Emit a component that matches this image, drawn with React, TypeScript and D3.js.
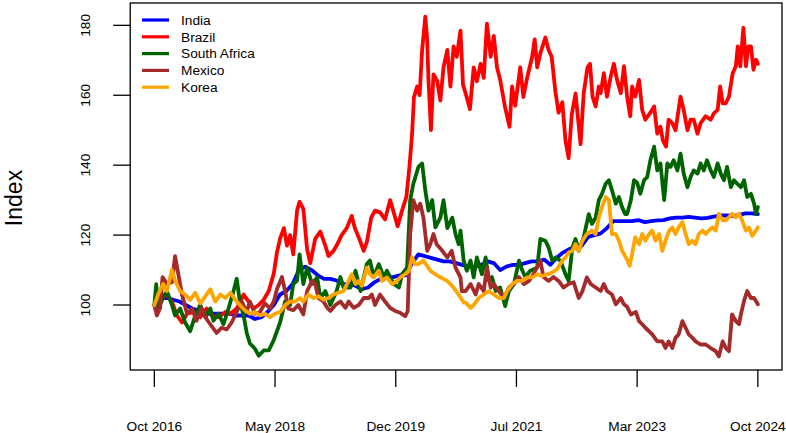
import React from "react";
import * as d3 from "d3";

// month offsets since Oct 2016, index values
const india: [number, number][] = [[0,100],[1,102],[2,102],[3,101.5],[4,101],[5,100],[6,99],[7,98.5],[8,97.5],[9,97.5],[10,97.5],[11,97.5],[12,97.5],[13,97],[14,97],[15,97],[16,96],[17,96.5],[18,98],[19,100],[20,103],[21,104],[22,106],[23,110],[24,111],[25,110],[26,108.5],[27,107.5],[28,107.5],[29,107],[30,106],[31,106],[32,105.5],[33,104.5],[34,105],[35,106.5],[36,107.5],[37,108],[38,108],[39,108.5],[40,108.5],[41,112],[42,114.5],[43,114],[44,113.5],[45,113],[46,112.5],[47,112.5],[48,112],[49,111.5],[50,111],[51,111],[52,111.5],[53,112.5],[54,112],[55,110],[56,111],[57,111.5],[58,111.5],[59,112],[60,112.5],[61,112.5],[62,113],[63,111.5],[64,113.5],[65,115],[66,116],[67,116.5],[68,117],[69,119.5],[70,120],[71,120.5],[72,122],[73,124],[74,124],[75,124],[76,124],[77,124.3],[78,123.7],[79,124],[80,124.2],[81,124.3],[82,124.8],[83,125],[84,125],[85,125.2],[86,125],[87,124.8],[88,124.9],[89,125.3],[90,125.6],[91,125.6],[92,125.5],[93,125.7],[94,126.2],[95,126.2],[96,126]];

const brazil: [number, number][] = [[0,100],[0.9,102.5],[2.0,103],[2.8,101],[3.6,97],[4.4,95],[5.2,97.5],[6.2,98],[7.3,96.5],[8.3,99],[9.1,97],[10.2,96.5],[11.3,98],[12.1,97.5],[13.1,99],[14.2,103],[15.0,101],[15.8,99],[16.6,100],[17.4,101.5],[18.2,104],[19.0,109],[19.5,115],[20.0,119],[20.6,122],[21.1,117],[21.6,120],[22.1,114.5],[22.7,127],[23.1,129.5],[23.7,127.5],[24.3,116],[24.8,112],[25.6,119],[26.4,121],[27.2,117],[27.7,114],[28.5,115.5],[29.0,117],[29.8,120],[30.6,122],[31.4,125.5],[31.9,122],[32.7,118.5],[33.3,115.5],[33.8,118],[34.5,125],[35.1,127],[35.9,126.5],[36.7,124.5],[37.5,130],[38.0,127],[38.7,122.5],[39.4,127],[40.1,131],[40.6,140],[41.0,149],[41.3,159.5],[41.8,162.5],[42.2,160],[42.6,173],[43.1,182.5],[43.4,176],[43.6,164.5],[44.0,150],[44.4,166],[45.0,164],[45.5,158.5],[46.0,168],[46.6,173],[47.1,162.5],[47.6,174],[48.1,171],[48.7,178.5],[49.1,163],[49.6,160],[50.2,156],[50.8,168],[51.3,164],[51.9,169],[52.4,165],[52.9,180.5],[53.5,171],[54.0,177],[54.5,168],[55.0,164.5],[55.8,156.5],[56.5,151],[56.9,162.5],[57.4,157],[58.2,168],[58.7,159.5],[59.3,165],[60.1,171],[60.5,176],[60.9,168],[61.4,172],[62.2,176.5],[62.7,173],[63.2,171],[63.8,161],[64.3,155],[64.9,158],[65.4,147],[65.9,142],[66.4,154.5],[67.0,160.5],[67.8,146],[68.3,160.6],[68.9,168],[69.3,169],[69.7,159.6],[70.2,156.8],[70.7,162.5],[71.0,160.6],[71.5,166.3],[72.0,159.6],[72.6,165.4],[73.1,169],[73.6,164.4],[74.2,160.6],[74.7,168.3],[75.2,159.6],[75.7,154],[76.0,162.5],[76.5,159.6],[77.1,164.4],[77.6,155.8],[78.1,153],[78.9,155],[79.5,156.8],[80.0,149],[80.5,151],[80.9,147],[81.4,145.3],[81.8,153],[82.4,152],[82.9,150],[83.7,159.6],[84.2,155.8],[84.8,150],[85.3,153],[85.8,153],[86.4,149],[86.9,152],[87.7,154],[88.5,153],[89.0,154.8],[89.6,155.8],[90.0,162.5],[90.4,157.7],[90.9,157.7],[91.4,159.6],[92.0,166.3],[92.5,168.3],[92.8,174],[93.2,168.3],[93.7,179.3],[94.1,168.3],[94.5,174],[94.9,174],[95.3,167.3],[95.7,170.2],[96,169]];

const southAfrica: [number, number][] = [[0,100],[0.3,106],[0.6,99],[1.4,102],[2.0,104],[2.8,100],[3.3,97],[4.1,99],[4.9,95],[5.7,92.5],[6.5,97],[7.3,100],[8.1,96.5],[8.9,99],[9.4,95.5],[10.2,97.5],[11.0,94.5],[11.8,99],[12.6,104],[13.1,107.5],[13.6,101],[14.2,97],[14.7,92],[15.2,89],[16.0,87.5],[16.6,85.5],[17.4,87],[18.2,87],[19.0,90],[19.5,92.5],[20.0,95],[20.8,101],[21.6,100],[22.1,106],[22.7,107],[23.1,114.5],[23.7,106],[24.3,110.7],[25.1,106],[25.9,107.9],[26.4,102],[27.2,104],[28.0,100],[29.0,104],[29.6,108],[30.1,105],[31.2,105],[32.0,109.8],[32.8,104],[33.8,111.7],[34.3,112.7],[34.9,108],[35.7,111.7],[36.5,108],[37.0,109.8],[38.1,106],[38.9,105],[39.4,108.8],[40.2,110.7],[40.7,130],[41.2,134.7],[42.0,139.5],[42.6,140.5],[43.1,132.8],[43.6,127],[44.2,130],[44.7,122.2],[45.5,125],[46.0,130],[46.6,122],[47.4,125],[47.9,120.3],[48.4,117.4],[48.7,121.3],[49.2,112.7],[49.7,109.8],[50.3,112.7],[50.8,107.9],[51.3,113.6],[52.1,108.8],[52.7,113.6],[53.2,107],[53.7,108],[54.3,104],[55.0,105],[55.8,99.7],[56.4,104],[57.2,106],[58.0,112.7],[58.5,110],[59.0,108],[59.8,109.8],[60.9,110.7],[61.4,118.9],[62.2,118.4],[62.7,116.5],[63.3,112.7],[63.8,113.6],[64.6,112.7],[65.4,108.8],[65.9,106.9],[66.5,116.5],[67.0,118.9],[67.5,115.5],[68.3,119.4],[69.1,126],[69.6,123.2],[70.2,125],[70.7,130],[71.2,131.8],[71.8,134.7],[72.3,135.7],[72.8,132.8],[73.4,129],[73.9,130.9],[74.4,128],[74.9,126],[75.2,126],[75.8,130],[76.3,135.7],[76.8,135],[77.3,131.8],[77.9,135.7],[78.4,136.6],[78.9,141.4],[79.5,145.3],[80.0,138.5],[80.5,140.5],[81.1,130],[81.6,140.5],[82.1,139.5],[82.6,141.4],[83.2,138.5],[83.7,143.3],[84.2,137.6],[84.8,133.7],[85.3,136.6],[85.8,138.5],[86.4,137.6],[86.9,140.5],[87.4,138.5],[87.9,141.4],[88.5,138.5],[89.0,136.6],[89.6,140.5],[90.1,137.6],[90.6,135.7],[91.1,139.5],[91.7,133.7],[92.2,135.7],[92.7,134.7],[93.3,133.7],[93.8,135.7],[94.3,130.9],[94.9,131.8],[95.4,129],[95.7,126.1],[96.0,128]];

const mexico: [number, number][] = [[0,100],[0.4,97],[0.9,99],[1.3,108],[2.0,106],[2.8,106.5],[3.3,114],[3.8,109],[4.4,103],[5.2,97.5],[6.0,99],[6.7,95.5],[7.5,99],[8.3,96],[9.1,94],[9.9,92],[10.7,93.5],[11.5,93],[12.3,95],[13.1,98],[13.9,101],[14.7,98],[15.2,101],[16.0,97.5],[16.8,98],[17.6,100.5],[18.4,99],[19.0,101],[19.5,104.5],[20.3,108],[20.8,104],[21.3,99],[22.1,98.5],[22.9,100],[23.7,97.3],[24.3,104],[25.1,106.9],[25.6,106],[26.1,102],[26.9,101],[27.5,99.2],[28.0,98.3],[28.8,100],[29.6,101],[30.4,99.2],[30.9,101],[31.7,99.2],[32.5,100],[33.3,102],[34.1,102],[34.6,103],[35.1,100],[35.9,103],[36.7,101],[37.5,99.2],[38.3,98.3],[39.1,97.8],[39.9,96.8],[40.3,98.3],[40.7,120.3],[41.2,130],[41.8,127],[42.3,129],[42.8,125],[43.4,115.5],[43.9,117.4],[44.4,120.3],[44.9,117.4],[45.8,115.5],[46.6,113.6],[47.3,115.5],[47.9,110.7],[48.7,107.9],[48.9,104],[49.5,104],[50.3,106],[51.1,103],[51.6,106],[52.4,104],[52.9,110.7],[53.5,105],[54.0,106],[54.8,104],[55.6,102],[56.4,105],[57.2,106],[58.0,108],[58.8,106],[59.6,106.9],[60.3,108.8],[61.4,112.7],[61.9,108],[62.7,106.9],[63.5,108],[64.3,106.9],[65.1,105],[65.9,106],[66.7,106.5],[67.5,102],[68.1,104],[68.8,107.9],[69.4,106],[70.2,105],[71.0,104],[71.5,106],[72.0,104],[72.8,103],[73.4,100.2],[74.2,102],[74.7,100.2],[75.2,99.5],[75.8,97.3],[76.6,98],[77.1,95.4],[77.6,94.5],[78.1,93.5],[78.7,92.5],[79.2,91.6],[80.0,89.6],[80.8,89.6],[81.3,87.7],[81.8,89.6],[82.4,87.7],[82.9,90.6],[83.4,91.6],[84.0,95.4],[84.5,93.5],[85.0,91.6],[85.6,90.6],[86.1,89.6],[86.9,88.7],[87.7,88.7],[88.5,87.7],[89.3,86.8],[89.8,85.3],[90.4,89.6],[90.9,87.7],[91.4,86.8],[91.9,97.3],[92.5,95.4],[93.0,94.5],[93.3,97.3],[93.8,101.2],[94.3,104],[94.9,102],[95.4,102],[96.0,100.2]];

const korea: [number, number][] = [[0,100],[0.6,103],[1.4,106],[2.0,104],[2.8,110],[3.3,107],[4.1,104],[4.9,103],[5.7,101.5],[6.5,103.5],[7.3,100.5],[8.1,102.5],[8.9,104.5],[9.7,101],[10.5,103],[11.3,102],[12.1,103.5],[12.9,101.5],[13.6,100],[14.4,98.5],[15.2,97.5],[16.0,98],[16.8,97],[17.6,97.5],[18.4,96.5],[19.2,97.5],[20.0,98],[20.8,100],[21.6,101],[22.4,101],[23.2,102],[23.7,101],[24.5,103],[25.3,102],[26.1,102.5],[26.9,101.5],[27.7,102],[28.5,103],[29.3,103.5],[30.1,104],[30.9,106.9],[31.4,108.8],[32.0,106],[32.5,106.9],[33.0,105.5],[33.8,110.7],[34.3,108.8],[34.9,107.9],[35.7,109.8],[36.2,106.9],[37.0,107.9],[37.8,106],[38.6,106.9],[39.1,107.9],[39.9,108.8],[40.5,109.8],[41.0,113.6],[41.5,111.7],[42.0,111.7],[42.8,112.7],[43.4,111.2],[43.9,109.8],[44.7,108.8],[45.5,107.9],[46.6,106.9],[47.6,105],[48.4,103],[49.2,100.7],[49.5,100.7],[50.3,99.2],[50.8,100],[51.6,102],[52.4,103],[53.2,104],[54.0,103],[54.8,102],[55.6,102],[56.1,104],[56.9,106],[57.7,106.9],[58.5,106.9],[59.3,107.9],[60.1,107.9],[60.9,108.8],[61.7,108.3],[62.5,108.8],[63.3,109.3],[64.1,110.3],[64.9,112.7],[65.4,113.6],[65.9,115],[66.5,115.5],[67.0,117.4],[67.5,115.5],[68.1,118.4],[68.8,120.3],[69.6,121.3],[70.2,120.3],[70.7,125.1],[71.2,128],[71.8,130.9],[72.3,130],[72.8,120.3],[73.4,120.3],[73.9,118.4],[74.4,115.5],[74.7,114.6],[75.2,113],[75.6,111.2],[76.0,114.6],[76.5,119.4],[77.1,117.4],[77.6,120.3],[78.1,118.4],[78.7,120.3],[79.2,121.3],[79.7,118.4],[80.3,120.3],[80.8,115.5],[81.3,118.4],[81.9,121.3],[82.4,122.2],[82.9,120.3],[83.4,122.2],[84.0,123.7],[84.5,120.3],[85.0,117.4],[85.6,118.4],[86.1,117.4],[86.6,120.3],[87.2,121.3],[87.7,120.3],[88.2,121.3],[88.8,122.2],[89.3,121.3],[89.8,126.1],[90.4,124.2],[90.9,124.2],[91.4,125.1],[91.9,126.1],[92.5,125.1],[93.0,126.1],[93.5,124.2],[94.1,121.3],[94.6,122.2],[95.1,119.8],[95.7,121.3],[96.0,122.2]];

const seriesNames = ["India", "Brazil", "South Africa", "Mexico", "Korea"];
const seriesColors = ["#0000FF", "#FF0000", "#006400", "#A52A2A", "#FFA500"];
const seriesData = [india, brazil, southAfrica, mexico, korea];

const xTickLabels = ["Oct 2016", "May 2018", "Dec 2019", "Jul 2021", "Mar 2023", "Oct 2024"];
const totalMonths = 96;
const yTicks = [100, 120, 140, 160, 180];
const yLabel = "Index";

const W = 786, H = 433;
const FONT = "'Liberation Sans', Arial, Helvetica, sans-serif";

export default function App() {
  const dataMin = d3.min(seriesData.flat(), (d) => d[1]) as number;
  const dataMax = d3.max(seriesData.flat(), (d) => d[1]) as number;
  const yPad = (dataMax - dataMin) * 0.04;
  const xPad = totalMonths * 0.04;

  const left = 130.2, right = 782, top = 3, bottom = 370;
  const x = d3.scaleLinear().domain([-xPad, totalMonths + xPad]).range([left, right]);
  const y = d3.scaleLinear().domain([dataMin - yPad, dataMax + yPad]).range([bottom, top]);

  const line = d3
    .line<[number, number]>()
    .x((d) => x(d[0]))
    .y((d) => y(d[1]));

  const xTicks = xTickLabels.map((_, i) => (i * totalMonths) / (xTickLabels.length - 1));

  return (
    <svg
      width={W}
      height={H}
      style={{ position: "fixed", left: 0, top: 0, background: "#fff" }}
      fontFamily={FONT}
    >
      <rect x={0} y={0} width={W} height={H} fill="#fff" />
      <defs>
        <clipPath id="plotclip">
          <rect x={left} y={top} width={right - left} height={bottom - top} />
        </clipPath>
      </defs>
      <g clipPath="url(#plotclip)">
        {seriesData.map((s, i) => (
          <path
            key={seriesNames[i]}
            d={line(s) || ""}
            fill="none"
            stroke={seriesColors[i]}
            strokeWidth={3.8}
            strokeLinejoin="round"
            strokeLinecap="round"
          />
        ))}
      </g>
      {/* box */}
      <rect x={left} y={top} width={right - left} height={bottom - top} fill="none" stroke="#000" strokeWidth={1.3} />
      {/* y axis */}
      {yTicks.map((t) => (
        <g key={t}>
          <line x1={left - 17} x2={left} y1={y(t)} y2={y(t)} stroke="#000" strokeWidth={1.3} />
          <text
            transform={`translate(${90},${y(t)}) rotate(-90)`}
            textAnchor="middle"
            fontSize={13.7}
            fill="#000"
          >
            {t}
          </text>
        </g>
      ))}
      {/* x axis */}
      {xTicks.map((t, i) => (
        <g key={i}>
          <line x1={x(t)} x2={x(t)} y1={bottom} y2={bottom + 17} stroke="#000" strokeWidth={1.3} />
          <text x={x(t)} y={431} textAnchor="middle" fontSize={13.7} fill="#000">
            {xTickLabels[i]}
          </text>
        </g>
      ))}
      <text
        transform={`translate(${21.5},${198}) rotate(-90)`}
        textAnchor="middle"
        fontSize={23}
        fill="#000"
      >
        {yLabel}
      </text>
      {/* legend */}
      {seriesNames.map((n, i) => {
        const ly = 20 + i * 16.8;
        return (
          <g key={n}>
            <line x1={142} x2={169} y1={ly} y2={ly} stroke={seriesColors[i]} strokeWidth={3.2} />
            <text x={181} y={ly + 4.8} fontSize={13.7} fill="#000">
              {n}
            </text>
          </g>
        );
      })}
    </svg>
  );
}
